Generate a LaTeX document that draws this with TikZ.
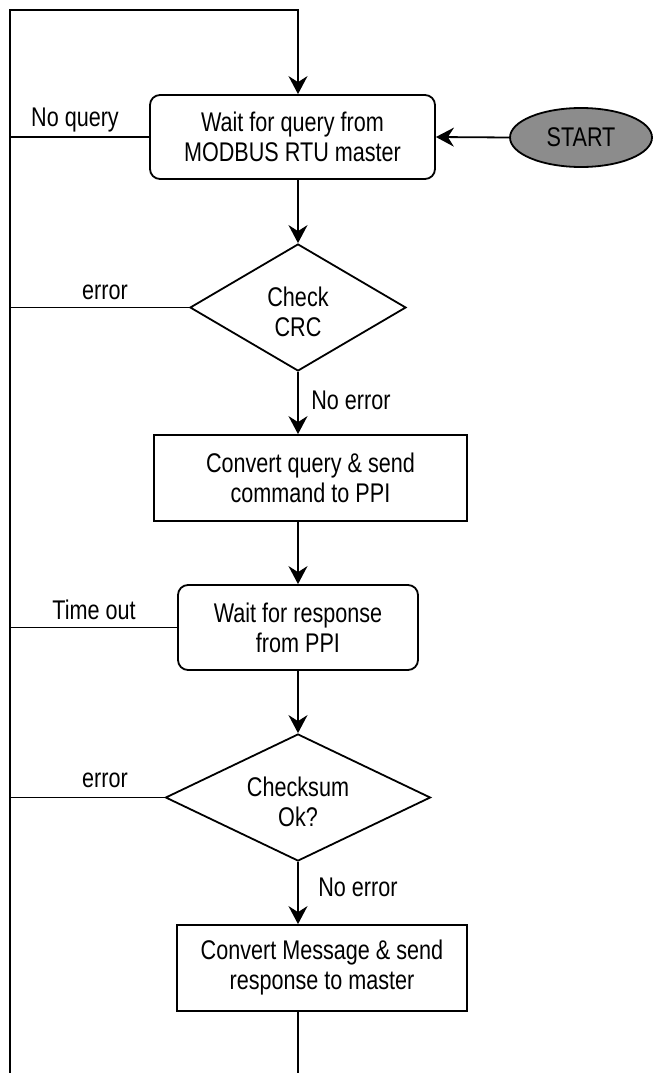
\documentclass[tikz,border=0pt]{standalone}
\usepackage{fontspec}
\setmainfont{Liberation Sans}[FakeStretch=0.8]
\usetikzlibrary{shapes.geometric,arrows.meta}
\definecolor{startgray}{RGB}{140,140,140}
\begin{document}
\begin{tikzpicture}[x=1pt,y=-1pt,
  every node/.style={font=\fontsize{27}{30}\selectfont},
  line/.style={line width=1.8pt},
  arr/.style={line, -{Stealth[length=18pt,width=19pt,inset=6pt]}},
  proc/.style={draw, line width=1.8pt, rectangle, inner sep=0pt, align=center},
  rproc/.style={proc, rounded corners=10pt},
  dec/.style={draw, line width=1.8pt, diamond, inner sep=0pt},
  dectext/.style={align=center, inner sep=0pt, yshift=-4pt},
  lbl/.style={inner sep=0pt}]
\useasboundingbox (0,0) rectangle (654,1073);
\coordinate (spine) at (298,0);
\coordinate (rail) at (10,0);
\coordinate (railtop) at (10,10);
\coordinate (railbot) at (10,1073);
\coordinate (loopcorner) at (298,10);
\coordinate (endbot) at (298,1073);

\node[rproc, minimum width=285pt, minimum height=84pt] (wait) at (292.5,137) {Wait for query from\\MODBUS RTU master};
\node[draw, line width=1.8pt, ellipse, fill=startgray, minimum width=142pt, minimum height=59pt, inner sep=0pt] (start) at (581,137.5) {START};
\node[dec, minimum width=216pt, minimum height=127pt, label={[dectext]center:Check\\CRC}] (crc) at (298,307.5) {};
\node[proc, minimum width=313pt, minimum height=86pt] (conv) at (310.5,478) {Convert query \& send\\command to PPI};
\node[rproc, minimum width=240pt, minimum height=85pt] (resp) at (298,627.5) {Wait for response\\from PPI};
\node[dec, minimum width=265pt, minimum height=127pt, label={[dectext]center:Checksum\\Ok?}] (cks) at (298,797.5) {};
\node[proc, minimum width=290pt, minimum height=86pt] (send) at (322,968) {Convert Message \& send\\response to master};

\node[lbl] (lnq) at (75,120) {No query};
\node[lbl] (le1) at (105,292) {error};
\node[lbl] (lne1) at (351,400) {No error};
\node[lbl] (lto) at (94,610) {Time out};
\node[lbl] (le2) at (105,780) {error};
\node[lbl] (lne2) at (358,887) {No error};

\draw[arr] (railbot) -- (railtop) -- (loopcorner) -- (wait.north -| spine);
\draw[arr] (start.west) -- (wait.east);
\draw[line] (wait.west) -- (wait.west -| rail);
\draw[arr] (wait.south -| spine) -- (crc.north);
\draw[line] (crc.west) -- (crc.west -| rail);
\draw[arr] (crc.south) -- (conv.north -| crc.south);
\draw[arr] (conv.south -| spine) -- (resp.north);
\draw[line] (resp.west) -- (resp.west -| rail);
\draw[arr] (resp.south) -- (cks.north);
\draw[line] (cks.west) -- (cks.west -| rail);
\draw[arr] (cks.south) -- (send.north -| cks.south);
\draw[line] (send.south -| spine) -- (endbot);
\end{tikzpicture}
\end{document}
